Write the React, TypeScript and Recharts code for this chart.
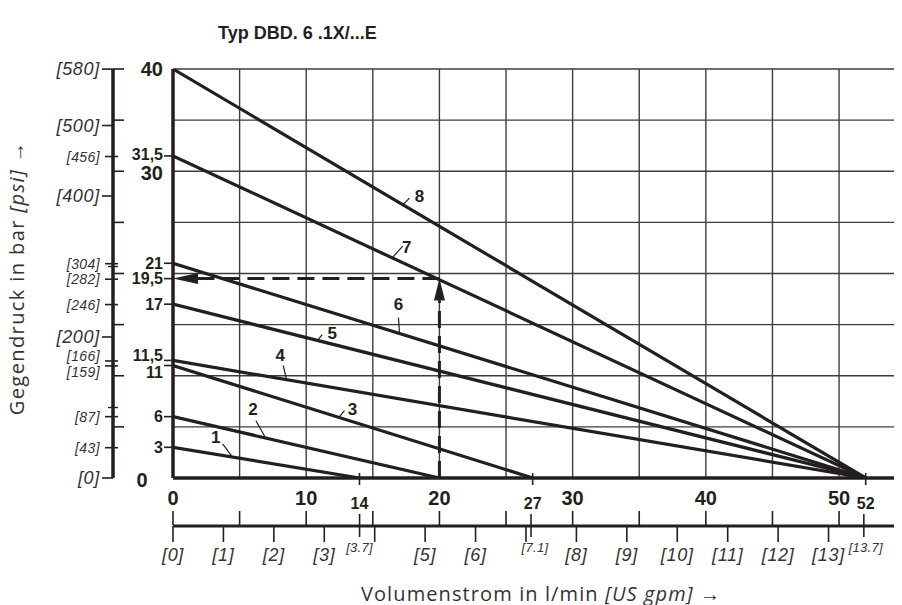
import React from "react";
import { ComposedChart, Line, XAxis, YAxis, ReferenceLine, ReferenceDot } from "recharts";

const INK = "#231f20";
const GRID = "#3d3d3d";
const FONT = "'Liberation Sans', Arial, Helvetica, sans-serif";
const TITLE_FONT = "'Open Sans', 'Liberation Sans', Arial, sans-serif";

const BAR_TO_PSI = 14.5038;
const GPM_TO_LMIN = 3.78541;
const X_MAX = 54.5;
const Y_MAX = 40;

// curves 1..8: pressure at zero flow, flow at zero pressure
const CURVES = ["1", "2", "3", "4", "5", "6", "7", "8"];
const START_BAR = [3, 6, 11, 11.5, 17, 21, 31.5, 40];
const END_LMIN = [14, 20, 27, 52, 52, 52, 52, 52];
// flow where each curve number's leader touches the curve
const LABEL_LMIN = [4.4, 6.9, 12.5, 8.5, 10.9, 17.0, 16.5, 17.3];

const EXAMPLE_LMIN = 20;
const EXAMPLE_BAR = 19.5;

const BAR_TICKS = [0, 3, 6, 11, 11.5, 17, 19.5, 21, 30, 31.5, 40];
const BAR_BIG = [0, 30, 40];
const PSI_TICKS = [0, 43, 87, 159, 166, 200, 246, 282, 304, 400, 456, 500, 580];
const PSI_BIG = [0, 200, 400, 500, 580];
const PSI_MARKS = [100, 300];
const LMIN_LABELS = [0, 10, 20, 30, 40, 50];
const LMIN_MARKS = [14, 27, 52];
const GPM_TICKS = [0, 1, 2, 3, 3.7, 4, 5, 6, 7, 7.1, 8, 9, 10, 11, 12, 13, 13.7];
const GPM_NO_LABEL = [4, 7];
const GPM_SMALL = [3.7, 7.1, 13.7];
const GRID_LMIN = [5, 10, 15, 20, 25, 30, 35, 40, 45, 50];
const GRID_BAR = [5, 10, 15, 20, 25, 30, 35, 40];

// pixel offsets of leader end and number, relative to the touch point
const LABEL_LAYOUT = [
  { lx: -9, ly: -13, tx: -16, ty: -19 },
  { lx: -9, ly: -17, tx: -12, ty: -28 },
  { lx: 5, ly: -7, tx: 13, ty: -8 },
  { lx: -3, ly: -14, tx: -6, ty: -24 },
  { lx: 4, ly: -6, tx: 14, ty: -7 },
  { lx: -1, ly: -16, tx: -1, ty: -29 },
  { lx: 10, ly: -12, tx: 14, ty: -11 },
  { lx: 6, ly: -7, tx: 16, ty: -9 },
];

const curveData = CURVES.map((_, i) => [
  { x: 0, y: START_BAR[i] },
  { x: END_LMIN[i], y: 0 },
]);

const LMIN_TICKS = Array.from(new Set([0, ...GRID_LMIN, ...LMIN_LABELS, ...LMIN_MARKS])).sort((a, b) => a - b);
const PSI_GRID = GRID_BAR.map((b) => b * BAR_TO_PSI);
const PSI_ALL = [...PSI_TICKS, ...PSI_MARKS, ...PSI_GRID].sort((a, b) => a - b);

const LminTick = ({ x, y, payload }: any) => {
  const v = payload.value;
  return (
    <g>
      {v % 5 === 0 && <line x1={x} x2={x} y1={y + 33} y2={y + 47} stroke={INK} strokeWidth={1.6} />}
      {LMIN_LABELS.includes(v) && (
        <text x={x} y={y + 20} textAnchor="middle" dominantBaseline="central" fontSize={20} fontWeight="bold" fill={INK}>
          {v}
        </text>
      )}
      {LMIN_MARKS.includes(v) && (
        <g>
          <line x1={x} x2={x} y1={y - 5} y2={y + 7} stroke={INK} strokeWidth={1.6} />
          <text x={x} y={y + 25} textAnchor="middle" dominantBaseline="central" fontSize={16} fontWeight="bold" fill={INK}>
            {v}
          </text>
        </g>
      )}
    </g>
  );
};

const GpmTick = ({ x, y, payload }: any) => {
  const v = payload.value;
  if (GPM_SMALL.includes(v)) {
    return (
      <g>
        <line x1={x} x2={x} y1={y - 12} y2={y + 11} stroke={INK} strokeWidth={1.6} />
        <text x={x + (v === 7.1 ? 4 : v === 13.7 ? 2 : 0)} y={y + 21} textAnchor="middle" dominantBaseline="central" fontSize={13} fontStyle="italic" letterSpacing={0.3} fill="#333">
          [{v}]
        </text>
      </g>
    );
  }
  return (
    <g>
      <line x1={x} x2={x} y1={y} y2={y + 16} stroke={INK} strokeWidth={1.6} />
      {!GPM_NO_LABEL.includes(v) && (
        <text x={x} y={y + 29} textAnchor="middle" dominantBaseline="central" fontSize={18} fontStyle="italic" letterSpacing={0.7} fill="#333">
          [{v}]
        </text>
      )}
    </g>
  );
};

const BarTick = ({ x, y, payload }: any) => {
  const v = payload.value;
  if (v === 0) {
    return (
      <text x={x - 31} y={y + 2} textAnchor="middle" dominantBaseline="central" fontSize={20} fontWeight="bold" fill={INK}>
        0
      </text>
    );
  }
  const big = BAR_BIG.includes(v);
  const shift = v === 11.5 ? -5 : v === 11 ? 7 : v === 30 ? 2 : v === 31.5 ? -1 : 0;
  return (
    <g>
      {!big && <line x1={x - 9} x2={x} y1={y} y2={y} stroke={INK} strokeWidth={1.6} />}
      <text x={x - 10} y={y + shift} textAnchor="end" dominantBaseline="central" fontSize={big ? 20 : 16} fontWeight="bold" fill={INK}>
        {String(v).replace(".", ",")}
      </text>
    </g>
  );
};

const PsiTick = ({ x, y, payload }: any) => {
  const v = payload.value;
  if (PSI_GRID.includes(v)) {
    return <line x1={x} x2={x + 11} y1={y} y2={y} stroke={INK} strokeWidth={1.6} />;
  }
  if (PSI_MARKS.includes(v)) {
    return <line x1={x - 5} x2={x + 5} y1={y} y2={y} stroke={INK} strokeWidth={1.4} />;
  }
  const big = PSI_BIG.includes(v);
  const shift = v === 166 ? -5 : v === 159 ? 6 : 0;
  return (
    <g>
      <line x1={big ? x - 11 : x - 8} x2={big ? x : x + 5} y1={y} y2={y} stroke={INK} strokeWidth={1.6} />
      <text
        x={x - 13}
        y={y + shift}
        textAnchor="end"
        dominantBaseline="central"
        fontSize={big ? 18 : 14}
        letterSpacing={big ? 0.7 : 0.4}
        fontStyle="italic"
        fill="#333"
      >
        [{v}]
      </text>
    </g>
  );
};

const ArrowSegment = (p: any) => {
  const { x1, y1, x2, y2, head, half } = p;
  const dx = x2 - x1;
  const dy = y2 - y1;
  const len = Math.hypot(dx, dy) || 1;
  const ux = dx / len;
  const uy = dy / len;
  const bx = x2 - ux * head;
  const by = y2 - uy * head;
  return (
    <g>
      <line x1={x1} y1={y1} x2={bx} y2={by} stroke={INK} strokeWidth={3} strokeDasharray="17 8" />
      <polygon points={`${x2},${y2} ${bx - uy * half},${by + ux * half} ${bx + uy * half},${by - ux * half}`} fill={INK} />
    </g>
  );
};

const CurveLabel = ({ cx, cy, i }: any) => {
  const l = LABEL_LAYOUT[i];
  return (
    <g>
      <line x1={cx} y1={cy - 1} x2={cx + l.lx} y2={cy + l.ly} stroke={INK} strokeWidth={1.2} />
      <text x={cx + l.tx} y={cy + l.ty} textAnchor="middle" dominantBaseline="central" fontSize={17} fontWeight="bold" fill={INK}>
        {CURVES[i]}
      </text>
    </g>
  );
};

export default function App() {
  return (
    <div style={{ position: "relative", width: 894, height: 597, fontFamily: FONT, color: INK }}>
      <ComposedChart width={894} height={597} margin={{ top: 61, right: 3, bottom: 29, left: 0 }} style={{ fontFamily: FONT }}>
        <XAxis
          xAxisId="gpm"
          type="number"
          dataKey="x"
          domain={[0, X_MAX / GPM_TO_LMIN]}
          ticks={GPM_TICKS}
          interval={0}
          height={50}
          tickSize={0}
          tickMargin={0}
          tickLine={false}
          axisLine={{ stroke: INK, strokeWidth: 3 }}
          tick={GpmTick}
          allowDataOverflow
        />
        <XAxis
          xAxisId="flow"
          type="number"
          dataKey="x"
          domain={[0, X_MAX]}
          ticks={LMIN_TICKS}
          interval={0}
          height={48}
          tickSize={0}
          tickMargin={0}
          tickLine={false}
          axisLine={{ stroke: INK, strokeWidth: 3.5 }}
          tick={LminTick}
          allowDataOverflow
        />
        <YAxis
          yAxisId="bar"
          type="number"
          domain={[0, Y_MAX]}
          ticks={BAR_TICKS}
          interval={0}
          width={60}
          tickSize={0}
          tickMargin={0}
          tickLine={false}
          axisLine={{ stroke: INK, strokeWidth: 3.5 }}
          tick={BarTick}
          allowDataOverflow
        />
        <YAxis
          yAxisId="psi"
          type="number"
          domain={[0, Y_MAX * BAR_TO_PSI]}
          ticks={PSI_ALL}
          interval={0}
          width={105}
          tickSize={0}
          tickMargin={0}
          tickLine={false}
          axisLine={{ stroke: INK, strokeWidth: 3.5 }}
          tick={PsiTick}
          allowDataOverflow
        />

        {GRID_LMIN.map((v) => (
          <ReferenceLine key={`gx${v}`} xAxisId="flow" yAxisId="bar" x={v} stroke={GRID} strokeWidth={1.4} />
        ))}
        {GRID_BAR.map((v) => (
          <ReferenceLine key={`gy${v}`} xAxisId="flow" yAxisId="bar" y={v} stroke={GRID} strokeWidth={1.4} />
        ))}

        {CURVES.map((name, i) => (
          <Line
            key={name}
            xAxisId="flow"
            yAxisId="bar"
            data={curveData[i]}
            dataKey="y"
            type="linear"
            stroke={INK}
            strokeWidth={3.2}
            dot={false}
            activeDot={false}
            isAnimationActive={false}
          />
        ))}

        <ReferenceLine
          xAxisId="flow"
          yAxisId="bar"
          segment={[{ x: EXAMPLE_LMIN, y: 0 }, { x: EXAMPLE_LMIN, y: EXAMPLE_BAR }]}
          shape={(p: any) => <ArrowSegment {...p} head={22} half={5.5} />}
          ifOverflow="visible"
        />
        <ReferenceLine
          xAxisId="flow"
          yAxisId="bar"
          segment={[{ x: EXAMPLE_LMIN, y: EXAMPLE_BAR }, { x: 0, y: EXAMPLE_BAR }]}
          shape={(p: any) => <ArrowSegment {...p} head={25} half={5.5} />}
          ifOverflow="visible"
        />

        {CURVES.map((name, i) => (
          <ReferenceDot
            key={`l${name}`}
            xAxisId="flow"
            yAxisId="bar"
            x={LABEL_LMIN[i]}
            y={START_BAR[i] * (1 - LABEL_LMIN[i] / END_LMIN[i])}
            r={0}
            ifOverflow="visible"
            shape={(p: any) => <CurveLabel cx={p.cx} cy={p.cy} i={i} />}
          />
        ))}
      </ComposedChart>

      <div style={{ position: "absolute", left: 210, top: 25, transform: "translateY(-50%)", fontSize: 18, fontWeight: "bold", whiteSpace: "nowrap" }}>
        Typ DBD. 6 .1X/...E
      </div>
      <div
        style={{
          position: "absolute",
          left: 8,
          top: 270,
          transform: "translate(-50%, -50%) rotate(-90deg)",
          fontFamily: TITLE_FONT,
          fontSize: 20,
          letterSpacing: 1.4,
          whiteSpace: "nowrap",
          color: "#333",
        }}
      >
        Gegendruck in bar <i>[psi]</i> →
      </div>
      <div
        style={{
          position: "absolute",
          left: 533,
          top: 585,
          transform: "translate(-50%, -50%)",
          fontFamily: TITLE_FONT,
          fontSize: 20,
          letterSpacing: 1.1,
          whiteSpace: "nowrap",
          color: "#333",
        }}
      >
        Volumenstrom in l/min <i>[US gpm]</i> →
      </div>
    </div>
  );
}
